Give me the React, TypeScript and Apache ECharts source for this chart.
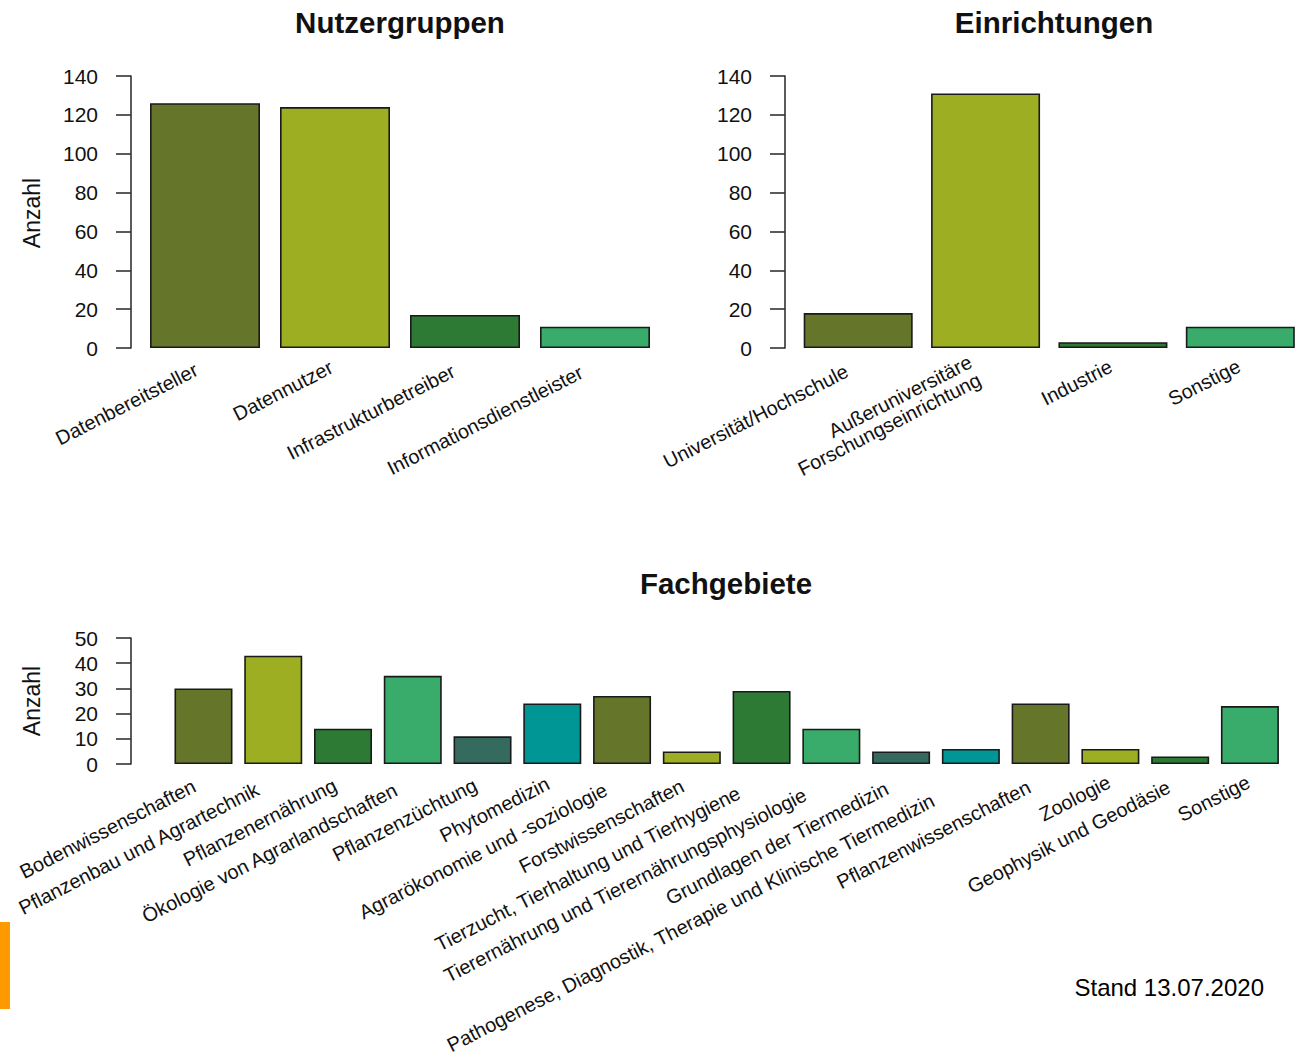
import React, { useEffect, useRef } from "react";
import * as echarts from "echarts";

const nutzerCategories = ["Datenbereitsteller", "Datennutzer", "Infrastrukturbetreiber", "Informationsdienstleister"];
const nutzerValues = [126, 124, 17, 11];

const einrCategories = ["Universität/Hochschule", "Außeruniversitäre\nForschungseinrichtung", "Industrie", "Sonstige"];
const einrValues = [18, 131, 3, 11];

const fachCategories = [
  "Bodenwissenschaften",
  "Pflanzenbau und Agrartechnik",
  "Pflanzenernährung",
  "Ökologie von Agrarlandschaften",
  "Pflanzenzüchtung",
  "Phytomedizin",
  "Agrarökonomie und -soziologie",
  "Forstwissenschaften",
  "Tierzucht, Tierhaltung und Tierhygiene",
  "Tierernährung und Tierernährungsphysiologie",
  "Grundlagen der Tiermedizin",
  "Pathogenese, Diagnostik, Therapie und Klinische Tiermedizin",
  "Pflanzenwissenschaften",
  "Zoologie",
  "Geophysik und Geodäsie",
  "Sonstige",
];
const fachValues = [30, 43, 14, 35, 11, 24, 27, 5, 29, 14, 5, 6, 24, 6, 3, 23];

const palette = ["#65752A", "#9DAE22", "#2C7A34", "#39AB6A", "#356B5E", "#009696"];

const topTicks = { min: 0, max: 140, interval: 20 };
const bottomTicks = { min: 0, max: 50, interval: 10 };

const FONT = "'Liberation Sans', Arial, Helvetica, sans-serif";
const TEXT = "#111";

// mimic the original device's right-aligned label drift: longer labels end further left
const labelItem = (name: string) => {
  const lines = name.split("\n");
  const longest = Math.max(...lines.map((l) => l.length));
  const right = Math.max(0, 0.8 * (longest - 6));
  const top = (lines.length - 1) * 23;
  return { value: name, textStyle: { padding: [top, right, 0, 0] } };
};

export default function App() {
  const ref = useRef<HTMLDivElement>(null);
  useEffect(() => {
    if (!ref.current) return;
    const chart = echarts.init(ref.current, undefined, { renderer: "svg" });

    const yAxisBase = (ticks: any, gridIndex: number, offset: number) => ({
      type: "value",
      gridIndex,
      min: ticks.min,
      max: ticks.max,
      interval: ticks.interval,
      offset,
      splitLine: { show: false },
      axisLine: { show: true, lineStyle: { color: "#333", width: 1.6 } },
      axisTick: { show: true, length: 15, lineStyle: { color: "#333", width: 1.6 } },
      axisLabel: { fontSize: 21, fontFamily: FONT, color: TEXT, margin: 33 },
    });
    const xAxisBase = (cats: string[], gridIndex: number) => ({
      type: "category",
      gridIndex,
      data: cats.map(labelItem),
      axisLine: { show: false },
      axisTick: { show: false },
      axisLabel: {
        interval: 0,
        rotate: 27,
        fontSize: 20,
        fontFamily: FONT,
        color: TEXT,
        margin: 16,
        hideOverlap: false,
      },
    });
    const bars = (vals: number[], idx: number, width: number) => ({
      type: "bar",
      xAxisIndex: idx,
      yAxisIndex: idx,
      barWidth: width,
      data: vals.map((v, i) => ({
        value: v,
        itemStyle: { color: palette[i % palette.length] },
      })),
      itemStyle: { borderColor: "#1a1a1a", borderWidth: 1.6 },
      silent: true,
    });

    chart.setOption({
      animation: false,
      grid: [
        { left: 140, top: 76, width: 520, height: 272 },
        { left: 794.5, top: 76, width: 520, height: 272 },
        { left: 168.6, top: 638, width: 1116.2, height: 126 },
      ],
      xAxis: [xAxisBase(nutzerCategories, 0), xAxisBase(einrCategories, 1), xAxisBase(fachCategories, 2)],
      yAxis: [yAxisBase(topTicks, 0, 9), yAxisBase(topTicks, 1, 9.5), yAxisBase(bottomTicks, 2, 37.6)],
      series: [bars(nutzerValues, 0, 110), bars(einrValues, 1, 109), bars(fachValues, 2, 58)],
      graphic: [
        { type: "text", x: 400, y: 22, style: { text: "Nutzergruppen", font: `bold 29.5px ${FONT}`, fill: TEXT, textAlign: "center", textVerticalAlign: "middle" } },
        { type: "text", x: 1054, y: 22, style: { text: "Einrichtungen", font: `bold 29.5px ${FONT}`, fill: TEXT, textAlign: "center", textVerticalAlign: "middle" } },
        { type: "text", x: 726, y: 583, style: { text: "Fachgebiete", font: `bold 29.5px ${FONT}`, fill: TEXT, textAlign: "center", textVerticalAlign: "middle" } },
        { type: "text", x: 32, y: 213, rotation: Math.PI / 2, style: { text: "Anzahl", font: `23px ${FONT}`, fill: TEXT, textAlign: "center", textVerticalAlign: "middle" } },
        { type: "text", x: 32, y: 701, rotation: Math.PI / 2, style: { text: "Anzahl", font: `23px ${FONT}`, fill: TEXT, textAlign: "center", textVerticalAlign: "middle" } },
        { type: "text", x: 1264, y: 987, style: { text: "Stand 13.07.2020", font: `24px ${FONT}`, fill: "#000", textAlign: "right", textVerticalAlign: "middle" } },
        { type: "rect", shape: { x: 0, y: 922, width: 10, height: 87 }, style: { fill: "#FF9900" } },
      ],
    });
    return () => chart.dispose();
  }, []);
  return (
    <div
      ref={ref}
      style={{ position: "absolute", left: 0, top: 0, width: 1304, height: 1061, background: "#fff" }}
    />
  );
}
